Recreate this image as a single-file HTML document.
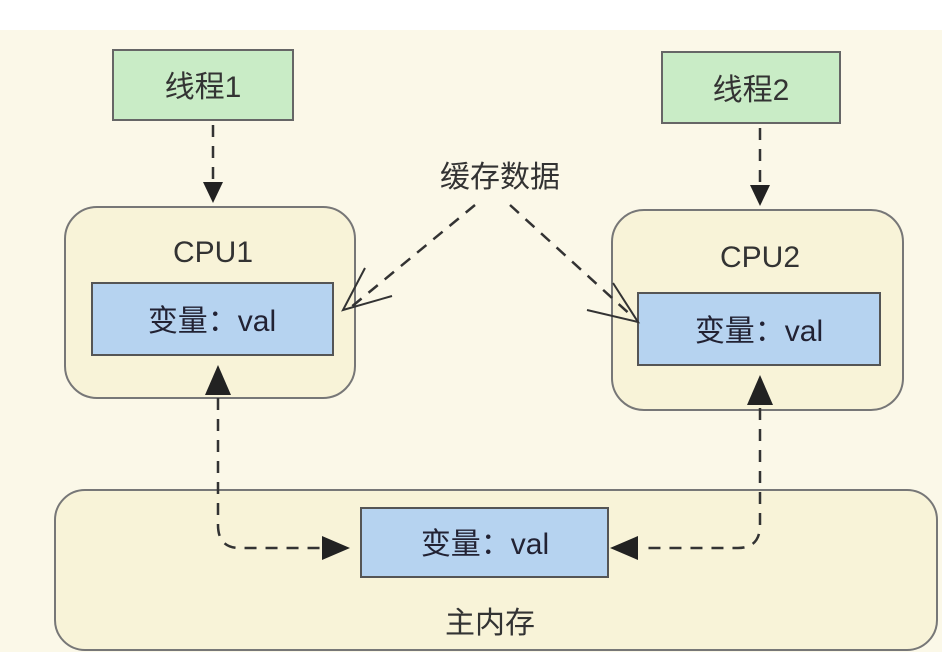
<!DOCTYPE html><html><head><style>
body{margin:0;width:942px;height:664px;overflow:hidden;background:#fff;font-family:"Liberation Sans","Noto Sans CJK SC",sans-serif;}
</style></head><body>
<svg width="942" height="664" xmlns="http://www.w3.org/2000/svg">
<rect x="0" y="30" width="942" height="622" fill="#fbf8e8"/>
<rect x="55" y="490" width="882" height="160" rx="30" fill="#f8f3d8" stroke="#777" stroke-width="2"/>
<rect x="113" y="50" width="180" height="70" fill="#c9ecc6" stroke="#666" stroke-width="2"/>
<rect x="662" y="52" width="178" height="71" fill="#c9ecc6" stroke="#666" stroke-width="2"/>
<rect x="65" y="207" width="290" height="191" rx="32" fill="#f8f3d8" stroke="#777" stroke-width="2"/>
<rect x="612" y="210" width="291" height="200" rx="32" fill="#f8f3d8" stroke="#777" stroke-width="2"/>
<rect x="92" y="283" width="241" height="72" fill="#b6d3f0" stroke="#555" stroke-width="2"/>
<rect x="638" y="293" width="242" height="72" fill="#b6d3f0" stroke="#555" stroke-width="2"/>
<rect x="361" y="508" width="247" height="69" fill="#b6d3f0" stroke="#555" stroke-width="2"/>
<g font-size="30" fill="#333" text-anchor="middle" font-family="Liberation Sans,Noto Sans CJK SC,sans-serif">
<text x="203" y="97">线程1</text>
<text x="751" y="100">线程2</text>
<text x="500" y="187">缓存数据</text>
<text x="213" y="262">CPU1</text>
<text x="760" y="267">CPU2</text>
<text x="212" y="331" fill="#223">变量：val</text>
<text x="759" y="341" fill="#223">变量：val</text>
<text x="485" y="554" fill="#223">变量：val</text>
<text x="490" y="633">主内存</text>
</g>
<g stroke="#333" stroke-width="2.5" fill="none" stroke-dasharray="12,9">
<line x1="213" y1="125" x2="213" y2="185"/>
<line x1="760" y1="128" x2="760" y2="188"/>
<path d="M218 398 V525 Q218 548 240 548 H325"/>
<path d="M760 408 V525 Q760 548 738 548 H640"/>
<line x1="475" y1="205" x2="350" y2="308"/>
<line x1="510" y1="205" x2="634" y2="318"/>
</g>
<g fill="#222">
<polygon points="203,182 223,182 213,203"/>
<polygon points="750,185 770,185 760,206"/>
<polygon points="205,395 231,395 218,365"/>
<polygon points="747,405 773,405 760,375"/>
<polygon points="322,536 322,560 350,548"/>
<polygon points="638,536 638,560 610,548"/>
</g>
<g stroke="#333" stroke-width="2" fill="none">
<polyline points="365,268 343,310 392,296"/>
<polyline points="613,283 638,322 587,310"/>
</g>
</svg>
</body></html>
